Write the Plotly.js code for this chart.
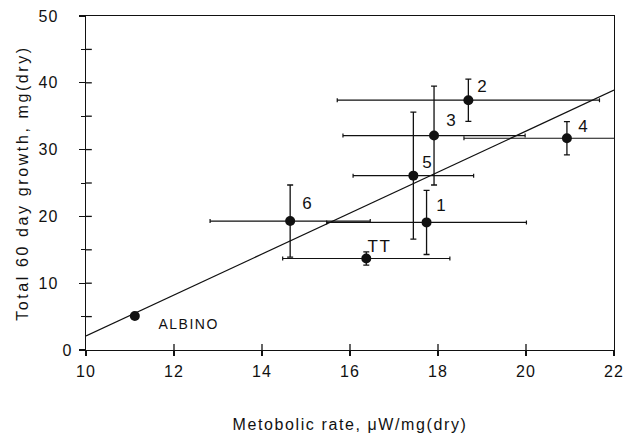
<!DOCTYPE html>
<html>
<head>
<meta charset="utf-8">
<script src="https://cdn.plot.ly/plotly-3.0.1.min.js"></script>
<style>
html,body{margin:0;padding:0;background:#fff;}
#chart{width:625px;height:433px;}
#chart text.xtitle{letter-spacing:1.6px;}
#chart text.ytitle{letter-spacing:2.6px;}
#chart .xtick text,#chart .ytick text{letter-spacing:1px;}
#chart text.annotation-text{letter-spacing:1.5px;}
</style>
</head>
<body>
<div id="chart"></div>
<script>
// Data
const labels = ["1", "2", "3", "4", "5", "6", "TT", "ALBINO"];
const metabolicRate = [17.74, 18.69, 17.91, 20.93, 17.44, 14.64, 16.37, 11.11];
const growth = [19.1, 37.4, 32.1, 31.7, 26.1, 19.3, 13.7, 5.1];
const rateErr = [2.27, 2.98, 2.07, 2.34, 1.37, 1.82, 1.9, 0];
const growthErr = [4.8, 3.16, 7.4, 2.5, 9.5, 5.4, 1.0, 0];
const fitX = [10, 22];
const fitY = [2.1, 38.9];
const xTicks = [10, 12, 14, 16, 18, 20, 22];
const yTicks = [0, 10, 20, 30, 40, 50];
const yMinorTicks = [5, 15, 25, 35, 45];

// label offsets (style, px)
const labelDx = [15, 14, 17, 17, 14, 17, 13, 54];
const labelDy = [17, 14, 15, 12, 13, 18, 12, -8];

const font = "Liberation Sans, Arial, sans-serif";
const ink = "#111";

const traces = [
  {
    x: fitX, y: fitY, mode: "lines", type: "scatter",
    line: {color: ink, width: 1.2}, hoverinfo: "skip", showlegend: false
  },
  {
    x: metabolicRate, y: growth, mode: "markers", type: "scatter",
    marker: {color: ink, size: 10},
    error_x: {type: "data", array: rateErr, visible: true, color: ink, thickness: 1.2, width: 2},
    error_y: {type: "data", array: growthErr, visible: true, color: ink, thickness: 1.3, width: 3},
    showlegend: false
  }
];

const annotations = labels.map((t, i) => ({
  x: metabolicRate[i], y: growth[i], text: t, showarrow: false,
  xshift: labelDx[i], yshift: labelDy[i],
  font: {family: font, size: i === 7 ? 14 : 17, color: ink}
}));

// inward halves of the crossing tick marks (drawn in paper coordinates from axis values)
const xr = [10, 22], yr = [0, 50];
const tickShapes = [];
xTicks.slice(1, -1).forEach(v => tickShapes.push({
  type: "line", xref: "x", yref: "paper", layer: "above",
  x0: v, x1: v, y0: 0, y1: 0.018, line: {color: ink, width: 1.3}
}));
yTicks.concat(yMinorTicks).filter(v => v > 0 && v < 50).forEach(v => tickShapes.push({
  type: "line", xref: "paper", yref: "y", layer: "above",
  x0: 0, x1: 0.011, y0: v, y1: v, line: {color: ink, width: 1.3}
}));

// two-digit y labels sit further left in the original
const yText = yTicks.map(v => v < 10 ? String(v) : String(v) + "\u2007\u2009");

const layout = {
  width: 625, height: 433,
  margin: {l: 86, r: 11, t: 16, b: 83},
  paper_bgcolor: "#fff", plot_bgcolor: "#fff",
  showlegend: false,
  font: {family: font, color: ink},
  xaxis: {
    range: xr, tickvals: xTicks, ticktext: xTicks.map(String),
    ticks: "outside", ticklen: 5, tickwidth: 1.2, tickcolor: ink, ticklabelstandoff: 1,
    showline: true, linecolor: ink, linewidth: 1.3, mirror: true,
    showgrid: false, zeroline: false,
    tickfont: {family: font, size: 16, color: ink},
    title: {text: "Metobolic rate, μW/mg(dry)", font: {family: font, size: 16, color: ink}, standoff: 42}
  },
  yaxis: {
    range: yr, tickvals: yTicks, ticktext: yText,
    ticks: "outside", ticklen: 6, tickwidth: 1.2, tickcolor: ink, ticklabelstandoff: 3,
    minor: {dtick: 5, ticks: "outside", ticklen: 4, tickwidth: 1, tickcolor: ink, showgrid: false},
    showline: true, linecolor: ink, linewidth: 1.3, mirror: true,
    showgrid: false, zeroline: false,
    tickfont: {family: font, size: 16, color: ink},
    title: {text: "Total 60 day growth, mg(dry)", font: {family: font, size: 16, color: ink}, standoff: 10}
  },
  shapes: tickShapes,
  annotations: annotations
};

Plotly.newPlot("chart", traces, layout, {staticPlot: true, displayModeBar: false});
</script>
</body>
</html>
